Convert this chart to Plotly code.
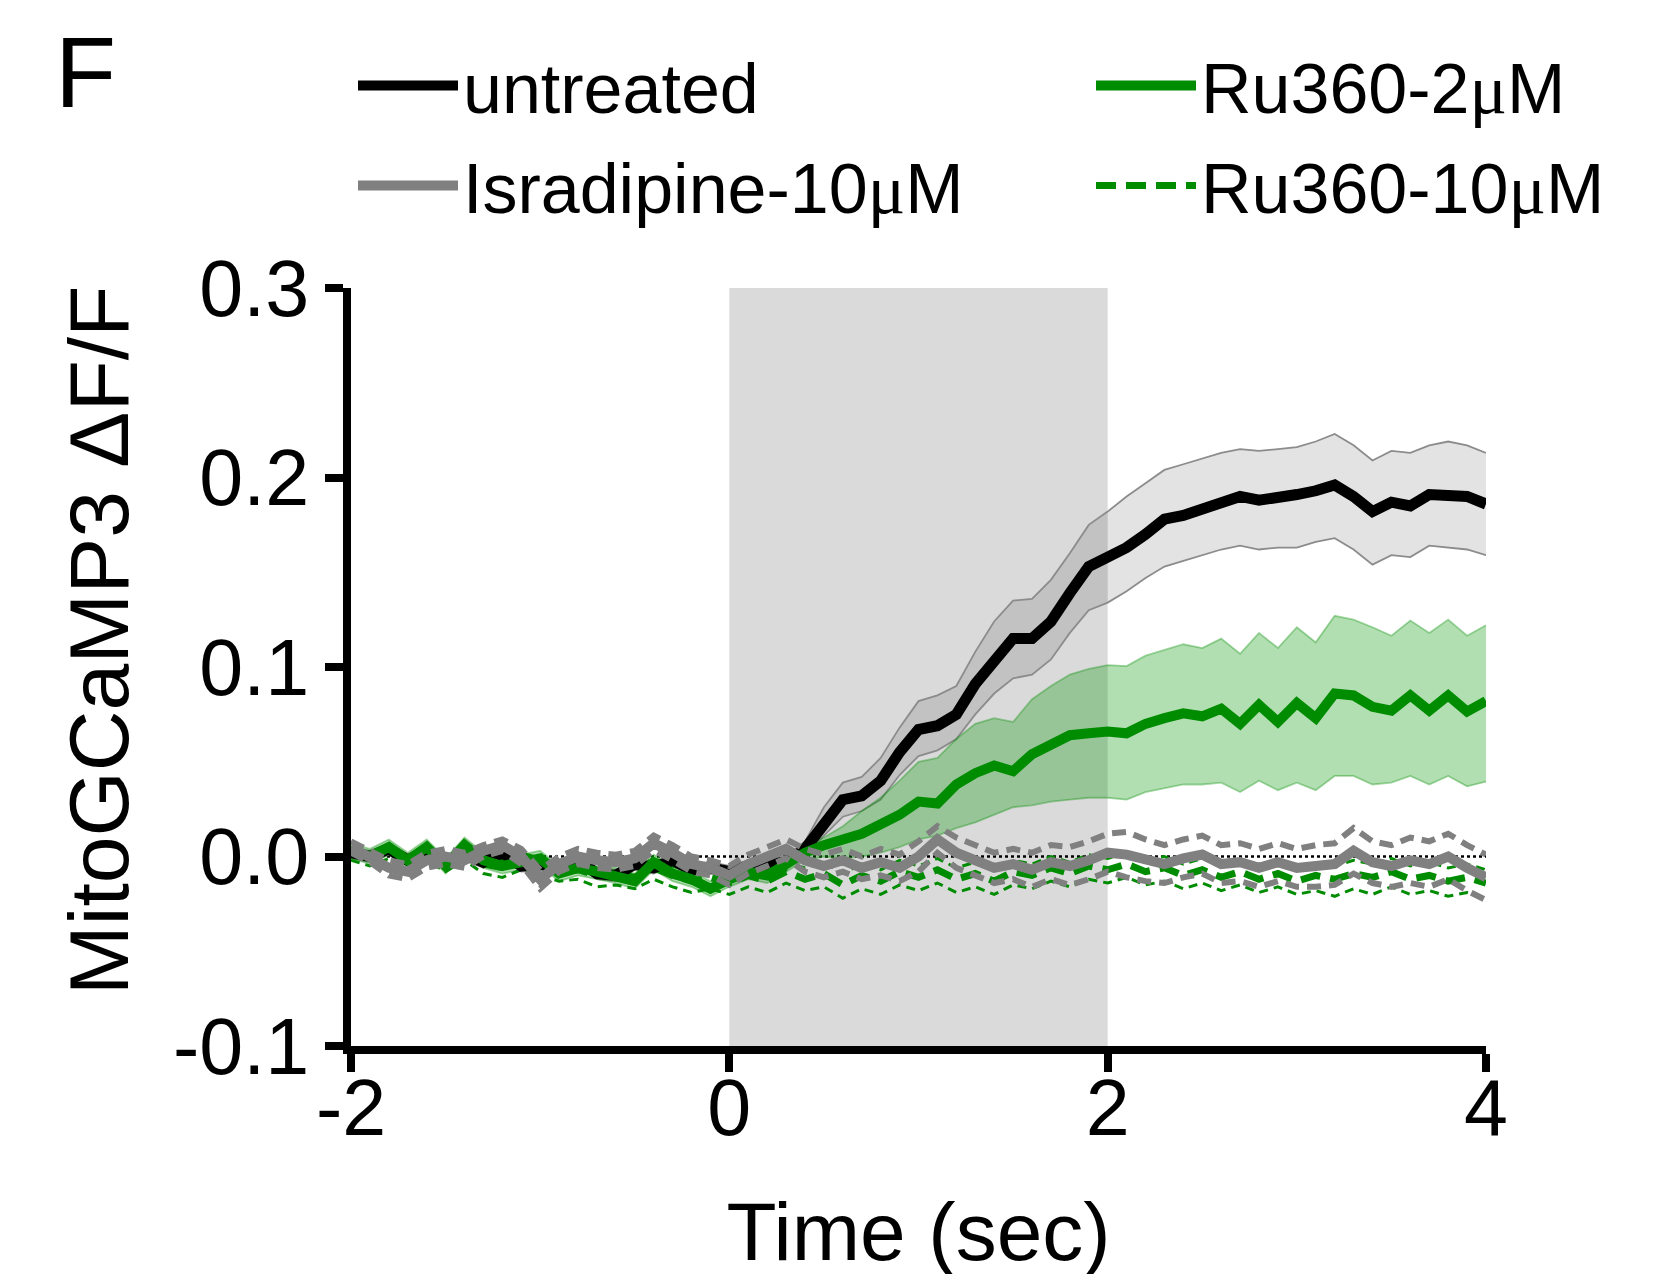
import numpy as np
import plotly.graph_objects as go

# time axis (s), 0.1 s sampling
time_s = np.round(np.arange(-2.0, 4.0001, 0.1), 1)

untreated_mean = [0.002, 0.000, 0.004, -0.002, 0.003, -0.004, 0.001, -0.003, 0.002, -0.005,
                  -0.004, -0.006, -0.002, -0.009, -0.010, -0.004, -0.006, -0.002, -0.007, -0.006,
                  -0.008, -0.005, -0.004, -0.003,
                  0.004, 0.018, 0.030, 0.032, 0.040, 0.055, 0.067, 0.069, 0.075, 0.091, 0.104,
                  0.115, 0.115, 0.124, 0.139, 0.153, 0.158, 0.163, 0.170, 0.178, 0.180, 0.183,
                  0.187, 0.190, 0.188, 0.189, 0.191, 0.193, 0.196, 0.190, 0.182, 0.187, 0.185,
                  0.191, 0.191, 0.190, 0.186]
untreated_upper = [0.005, 0.003, 0.007, 0.001, 0.006, -0.001, 0.004, 0.000, 0.005, -0.002,
                   -0.001, -0.003, 0.001, -0.006, -0.007, -0.001, -0.003, 0.001, -0.004, -0.003,
                   -0.005, -0.002, -0.001, 0.000,
                   0.008, 0.026, 0.039, 0.042, 0.052, 0.068, 0.082, 0.085, 0.090, 0.108, 0.124,
                   0.135, 0.136, 0.146, 0.160, 0.175, 0.182, 0.190, 0.197, 0.204, 0.207, 0.210,
                   0.213, 0.215, 0.214, 0.215, 0.216, 0.219, 0.223, 0.217, 0.209, 0.214, 0.213,
                   0.217, 0.219, 0.217, 0.213]
untreated_lower = [-0.001, -0.003, 0.001, -0.005, 0.000, -0.007, -0.002, -0.006, -0.001, -0.008,
                   -0.007, -0.009, -0.005, -0.012, -0.013, -0.007, -0.009, -0.005, -0.010, -0.009,
                   -0.011, -0.008, -0.007, -0.006,
                   0.000, 0.011, 0.021, 0.024, 0.030, 0.043, 0.053, 0.056, 0.062, 0.075, 0.086,
                   0.094, 0.096, 0.104, 0.118, 0.130, 0.134, 0.140, 0.147, 0.153, 0.156, 0.159,
                   0.162, 0.164, 0.162, 0.163, 0.163, 0.166, 0.168, 0.162, 0.154, 0.159, 0.158,
                   0.164, 0.163, 0.162, 0.159]

ru2_mean = [0.003, 0.000, 0.005, -0.002, 0.005, -0.005, 0.006, -0.002, -0.005, -0.003,
            -0.001, -0.009, -0.006, -0.008, -0.010, -0.013, -0.003, -0.009, -0.012, -0.017,
            -0.012, -0.008, -0.010, -0.004,
            0.002, 0.006, 0.009, 0.012, 0.017, 0.022, 0.029, 0.028, 0.038, 0.044, 0.048,
            0.045, 0.054, 0.059, 0.064, 0.065, 0.066, 0.065, 0.070, 0.073, 0.0755, 0.074,
            0.078, 0.070, 0.080, 0.071, 0.081, 0.073, 0.086, 0.085, 0.079, 0.077, 0.085,
            0.077, 0.085, 0.0765, 0.082]
ru2_upper = [0.007, 0.004, 0.009, 0.002, 0.009, -0.001, 0.010, 0.002, -0.001, 0.001,
             0.003, -0.005, -0.002, -0.004, -0.006, -0.009, 0.001, -0.005, -0.008, -0.013,
             -0.008, -0.004, -0.006, 0.000,
             0.006, 0.010, 0.016, 0.024, 0.031, 0.040, 0.050, 0.052, 0.062, 0.070, 0.073,
             0.071, 0.083, 0.090, 0.096, 0.099, 0.101, 0.1005, 0.106, 0.109, 0.112, 0.110,
             0.115, 0.107, 0.118, 0.110, 0.121, 0.113, 0.127, 0.125, 0.121, 0.1165, 0.1245,
             0.118, 0.125, 0.1165, 0.122]
ru2_lower = [-0.001, -0.004, 0.001, -0.006, 0.001, -0.009, 0.002, -0.006, -0.009, -0.007,
             -0.005, -0.013, -0.010, -0.012, -0.014, -0.017, -0.007, -0.013, -0.016, -0.021,
             -0.016, -0.012, -0.014, -0.008,
             -0.002, 0.000, -0.001, 0.000, 0.002, 0.005, 0.009, 0.011, 0.015, 0.018, 0.022,
             0.026, 0.027, 0.029, 0.030, 0.031, 0.031, 0.030, 0.034, 0.036, 0.038, 0.038,
             0.039, 0.034, 0.040, 0.035, 0.039, 0.035, 0.0425, 0.0425, 0.038, 0.039, 0.0425,
             0.038, 0.0425, 0.037, 0.0395]

isr_mean = [0.005, 0.000, -0.006, -0.008, -0.002, 0.000, -0.002, 0.003, 0.006, 0.000,
            -0.012, -0.004, 0.000, -0.002, -0.003, -0.001, 0.007, 0.002, -0.004, -0.006,
            -0.010, -0.004, 0.000, 0.004, -0.002, -0.005, -0.002, -0.006, -0.003, -0.006,
            0.000, 0.009, 0.002, -0.002, -0.006, -0.004, -0.007, -0.003, -0.005, -0.002,
            0.002, 0.001, -0.002, -0.004, -0.001, 0.001, -0.004, -0.003, -0.006, -0.003,
            -0.006, -0.005, -0.004, 0.003, -0.003, -0.005, -0.002, -0.004, 0.000, -0.006,
            -0.011]
isr_upper = [0.008, 0.003, -0.002, -0.004, 0.002, 0.004, 0.002, 0.006, 0.009, 0.004,
             -0.007, 0.000, 0.004, 0.002, 0.001, 0.003, 0.011, 0.006, 0.000, -0.002,
             -0.005, 0.001, 0.005, 0.009, 0.004, 0.001, 0.004, 0.000, 0.004, 0.001,
             0.008, 0.016, 0.010, 0.006, 0.002, 0.004, 0.002, 0.006, 0.005, 0.008,
             0.012, 0.013, 0.009, 0.006, 0.009, 0.011, 0.006, 0.007, 0.004, 0.007,
             0.004, 0.006, 0.007, 0.015, 0.008, 0.006, 0.010, 0.008, 0.012, 0.006,
             0.001]
isr_lower = [0.002, -0.003, -0.010, -0.012, -0.006, -0.004, -0.006, 0.000, 0.003, -0.004,
             -0.017, -0.008, -0.004, -0.006, -0.007, -0.005, 0.003, -0.002, -0.008, -0.010,
             -0.015, -0.009, -0.005, -0.001, -0.008, -0.011, -0.008, -0.012, -0.010, -0.013,
             -0.008, 0.002, -0.006, -0.010, -0.014, -0.012, -0.016, -0.012, -0.015, -0.012,
             -0.008, -0.011, -0.013, -0.014, -0.011, -0.009, -0.014, -0.013, -0.016, -0.013,
             -0.016, -0.016, -0.015, -0.009, -0.014, -0.016, -0.014, -0.016, -0.012, -0.018,
             -0.023]

ru10_mean = [0.002, -0.001, 0.003, -0.003, 0.002, -0.004, 0.003, -0.004, -0.006, -0.002,
             -0.005, -0.008, -0.007, -0.010, -0.009, -0.011, -0.006, -0.010, -0.013, -0.011,
             -0.014, -0.010, -0.013, -0.008, -0.012, -0.009, -0.015, -0.010, -0.013, -0.008,
             -0.011, -0.007, -0.012, -0.009, -0.013, -0.008, -0.010, -0.006, -0.009, -0.005,
             -0.007, -0.004, -0.008, -0.006, -0.010, -0.007, -0.011, -0.008, -0.012, -0.009,
             -0.013, -0.010, -0.012, -0.009, -0.011, -0.008, -0.012, -0.010, -0.013, -0.011,
             -0.014]
ru10_upper = [0.005, 0.002, 0.006, 0.000, 0.005, -0.001, 0.006, -0.001, -0.002, 0.002,
              -0.001, -0.004, -0.003, -0.005, -0.004, -0.006, -0.001, -0.005, -0.008, -0.006,
              -0.009, -0.005, -0.008, -0.003, -0.006, -0.003, -0.009, -0.004, -0.007, -0.002,
              -0.005, -0.001, -0.006, -0.003, -0.007, -0.002, -0.004, 0.000, -0.003, 0.001,
              -0.001, 0.002, -0.002, 0.000, -0.004, -0.001, -0.005, -0.002, -0.006, -0.003,
              -0.007, -0.004, -0.005, -0.002, -0.004, -0.001, -0.005, -0.003, -0.006, -0.004,
              -0.007]
ru10_lower = [-0.002, -0.005, -0.001, -0.007, -0.002, -0.008, -0.002, -0.009, -0.011, -0.007,
              -0.010, -0.013, -0.012, -0.016, -0.015, -0.017, -0.012, -0.016, -0.019, -0.017,
              -0.020, -0.016, -0.019, -0.014, -0.018, -0.016, -0.022, -0.017, -0.020, -0.015,
              -0.018, -0.014, -0.019, -0.016, -0.020, -0.015, -0.017, -0.013, -0.016, -0.012,
              -0.014, -0.011, -0.015, -0.013, -0.017, -0.014, -0.018, -0.015, -0.019, -0.016,
              -0.020, -0.018, -0.021, -0.017, -0.020, -0.016, -0.020, -0.018, -0.021, -0.019,
              -0.022]

x_ticks = [-2, 0, 2, 4]
x_ticktext = ["-2", "0", "2", "4"]
y_ticks = [-0.1, 0.0, 0.1, 0.2, 0.3]
y_ticktext = ["-0.1", "0.0", "0.1", "0.2", "0.3"]
stim_window = [0, 2]

MU = "<span style='font-family:Liberation Serif'>μ</span>"
GREEN = "rgb(0,140,0)"
GRAY = "rgb(128,128,128)"

fig = go.Figure()

# stimulation window
fig.add_vrect(x0=stim_window[0], x1=stim_window[1], fillcolor="rgb(218,218,218)",
              line_width=0, layer="below")
# baseline dotted line
fig.add_hline(y=0, line=dict(color="black", width=2.5, dash="dot"), layer="below")

# untreated SEM band
fig.add_trace(go.Scatter(x=time_s, y=untreated_lower, mode="lines",
                         line=dict(color="rgb(140,140,140)", width=1.8),
                         showlegend=False, hoverinfo="skip"))
fig.add_trace(go.Scatter(x=time_s, y=untreated_upper, mode="lines", fill="tonexty",
                         fillcolor="rgba(0,0,0,0.11)",
                         line=dict(color="rgb(140,140,140)", width=1.8),
                         showlegend=False, hoverinfo="skip"))
# Ru360-2 SEM band
fig.add_trace(go.Scatter(x=time_s, y=ru2_lower, mode="lines",
                         line=dict(color="rgba(0,140,0,0.35)", width=1.8),
                         showlegend=False, hoverinfo="skip"))
fig.add_trace(go.Scatter(x=time_s, y=ru2_upper, mode="lines", fill="tonexty",
                         fillcolor="rgba(0,150,0,0.30)",
                         line=dict(color="rgba(0,140,0,0.35)", width=1.8),
                         showlegend=False, hoverinfo="skip"))
# Ru360-10 SEM (thin dashed)
for ys in (ru10_upper, ru10_lower):
    fig.add_trace(go.Scatter(x=time_s, y=ys, mode="lines",
                             line=dict(color=GREEN, width=3, dash="9px,6px"),
                             showlegend=False, hoverinfo="skip"))
# Ru360-10 mean
fig.add_trace(go.Scatter(x=time_s, y=ru10_mean, mode="lines", name="Ru360-10" + MU + "M",
                         line=dict(color=GREEN, width=7, dash="20px,10px"),
                         legend="legend2", legendgroup="d", legendrank=2))
# untreated mean
fig.add_trace(go.Scatter(x=time_s, y=untreated_mean, mode="lines", name="untreated",
                         line=dict(color="black", width=11),
                         legend="legend", legendgroup="a", legendrank=1))
# Ru360-2 mean
fig.add_trace(go.Scatter(x=time_s, y=ru2_mean, mode="lines", name="Ru360-2" + MU + "M",
                         line=dict(color=GREEN, width=10),
                         legend="legend2", legendgroup="c", legendrank=1))
# Isradipine SEM (dashed)
for ys in (isr_upper, isr_lower):
    fig.add_trace(go.Scatter(x=time_s, y=ys, mode="lines",
                             line=dict(color=GRAY, width=6, dash="14px,8px"),
                             showlegend=False, hoverinfo="skip"))
# Isradipine mean
fig.add_trace(go.Scatter(x=time_s, y=isr_mean, mode="lines", name="Isradipine-10" + MU + "M",
                         line=dict(color=GRAY, width=10),
                         legend="legend", legendgroup="b", legendrank=2))

axis_common = dict(showline=True, linecolor="black", linewidth=8, ticks="outside",
                   ticklen=18, tickwidth=8, tickcolor="black", showgrid=False,
                   zeroline=False, automargin=False, tickfont=dict(size=79, color="black"))

fig.update_xaxes(range=[-2, 4], tickvals=x_ticks, ticktext=x_ticktext, ticklabelstandoff=-32,
                 title=dict(text="Time (sec)", font=dict(size=82, color="black"), standoff=55),
                 **axis_common)
fig.update_yaxes(range=[-0.1, 0.3], tickvals=y_ticks, ticktext=y_ticktext,
                 ticklabelstandoff=0, **axis_common)

# y-axis title
fig.add_annotation(text="MitoGCaMP3 ΔF/F", xref="paper", yref="paper", x=-0.2225, y=0.536,
                   xanchor="center", yanchor="middle", textangle=-90, showarrow=False,
                   font=dict(size=84, color="black"))
# panel letter
fig.add_annotation(text="F", xref="paper", yref="paper", x=-0.2627, y=1.2845,
                   xanchor="left", yanchor="middle", showarrow=False,
                   font=dict(size=100, color="black"))

legend_common = dict(orientation="v", xref="container", yref="container",
                     xanchor="left", yanchor="top", traceorder="grouped", tracegroupgap=6,
                     font=dict(size=70, color="black"), itemwidth=100,
                     bgcolor="rgba(0,0,0,0)")

fig.update_layout(
    width=1665, height=1274,
    margin=dict(l=343, r=187, t=280, b=236, autoexpand=False),
    plot_bgcolor="white", paper_bgcolor="white",
    font=dict(family="Liberation Sans, Arial, sans-serif", color="black"),
    legend=dict(x=345 / 1665, y=0.980, **legend_common),
    legend2=dict(x=1083 / 1665, y=0.980, **legend_common),
)

fig.write_html("out.html")
